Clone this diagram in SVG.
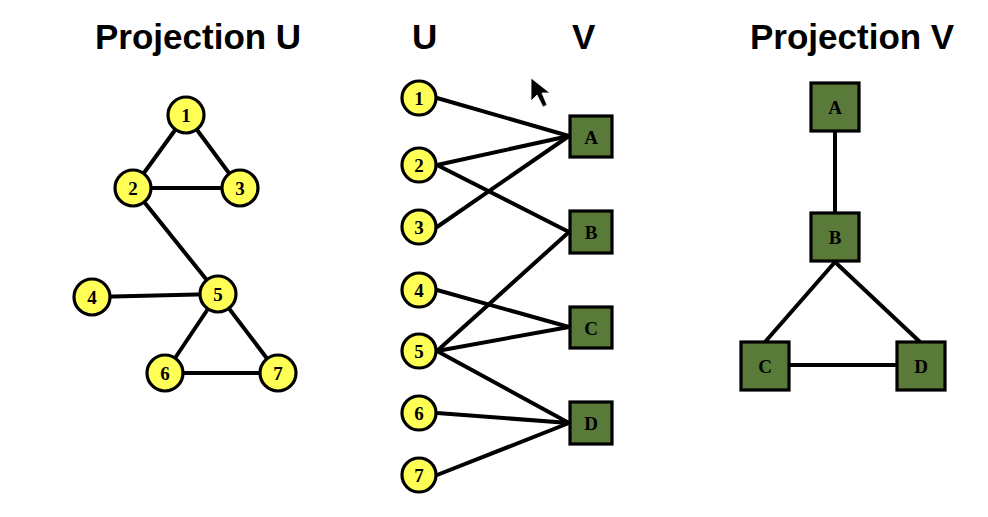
<svg xmlns="http://www.w3.org/2000/svg" width="988" height="517" viewBox="0 0 988 517">
<style>
.title{font-family:"Liberation Sans",Arial,sans-serif;font-weight:bold;font-size:35px;fill:#000}
.edge{stroke:#000;stroke-width:4;fill:none;stroke-linecap:round}
.u circle{fill:#FFFF55;stroke:#000;stroke-width:3.2}
.v rect{fill:#5A7A3A;stroke:#000;stroke-width:3.2}
.lbl{font-family:"Liberation Serif","Times New Roman",serif;font-weight:bold;font-size:19px;fill:#000;text-anchor:middle;dominant-baseline:central}
</style>
<rect width="988" height="517" fill="#fff"/>
<g id="titles">
<text class="title" x="95" y="49">Projection U</text>
<text class="title" x="412" y="49">U</text>
<text class="title" x="572" y="49">V</text>
<text class="title" x="750" y="49">Projection V</text>
</g>
<g id="connectors">
<line class="edge" x1="186" y1="115" x2="133" y2="188"/>
<line class="edge" x1="186" y1="115" x2="240" y2="188"/>
<line class="edge" x1="133" y1="188" x2="240" y2="188"/>
<line class="edge" x1="133" y1="188" x2="218" y2="294"/>
<line class="edge" x1="92" y1="297" x2="218" y2="294"/>
<line class="edge" x1="218" y1="294" x2="165" y2="373"/>
<line class="edge" x1="218" y1="294" x2="278" y2="373"/>
<line class="edge" x1="165" y1="373" x2="278" y2="373"/>
<line class="edge" x1="437" y1="98" x2="569" y2="136"/>
<line class="edge" x1="437" y1="165" x2="569" y2="136"/>
<line class="edge" x1="437" y1="227" x2="569" y2="136"/>
<line class="edge" x1="437" y1="165" x2="569" y2="232"/>
<line class="edge" x1="437" y1="351" x2="569" y2="232"/>
<line class="edge" x1="437" y1="290" x2="569" y2="327"/>
<line class="edge" x1="437" y1="351" x2="569" y2="327"/>
<line class="edge" x1="437" y1="351" x2="569" y2="423"/>
<line class="edge" x1="437" y1="413" x2="569" y2="423"/>
<line class="edge" x1="437" y1="475" x2="569" y2="423"/>
<line class="edge" x1="835" y1="107" x2="835" y2="237"/>
<line class="edge" x1="835" y1="262" x2="765" y2="342"/>
<line class="edge" x1="835" y1="262" x2="920" y2="342"/>
<line class="edge" x1="765" y1="365" x2="921" y2="365"/>
</g>
<g id="pu1" class="u"><circle cx="186" cy="115" r="18"/><text class="lbl" x="186" y="115">1</text></g>
<g id="pu2" class="u"><circle cx="133" cy="188" r="18"/><text class="lbl" x="133" y="188">2</text></g>
<g id="pu3" class="u"><circle cx="240" cy="188" r="18"/><text class="lbl" x="240" y="188">3</text></g>
<g id="pu4" class="u"><circle cx="92" cy="297" r="18"/><text class="lbl" x="92" y="297">4</text></g>
<g id="pu5" class="u"><circle cx="218" cy="294" r="18"/><text class="lbl" x="218" y="294">5</text></g>
<g id="pu6" class="u"><circle cx="165" cy="373" r="18"/><text class="lbl" x="165" y="373">6</text></g>
<g id="pu7" class="u"><circle cx="278" cy="373" r="18"/><text class="lbl" x="278" y="373">7</text></g>

<g id="u1" class="u"><circle cx="419" cy="98" r="17"/><text class="lbl" x="419" y="98">1</text></g>
<g id="u2" class="u"><circle cx="419" cy="165" r="17"/><text class="lbl" x="419" y="165">2</text></g>
<g id="u3" class="u"><circle cx="419" cy="227" r="17"/><text class="lbl" x="419" y="227">3</text></g>
<g id="u4" class="u"><circle cx="419" cy="290" r="17"/><text class="lbl" x="419" y="290">4</text></g>
<g id="u5" class="u"><circle cx="419" cy="351" r="17"/><text class="lbl" x="419" y="351">5</text></g>
<g id="u6" class="u"><circle cx="419" cy="413" r="17"/><text class="lbl" x="419" y="413">6</text></g>
<g id="u7" class="u"><circle cx="419" cy="475" r="17"/><text class="lbl" x="419" y="475">7</text></g>

<g id="vA" class="v"><rect x="570" y="116" width="42" height="41"/><text class="lbl" x="591" y="137">A</text></g>
<g id="vB" class="v"><rect x="570" y="211" width="42" height="42"/><text class="lbl" x="591" y="232">B</text></g>
<g id="vC" class="v"><rect x="570" y="307" width="42" height="41"/><text class="lbl" x="591" y="328">C</text></g>
<g id="vD" class="v"><rect x="570" y="402" width="42" height="42"/><text class="lbl" x="591" y="423">D</text></g>

<g id="pvA" class="v"><rect x="811" y="83" width="48" height="48"/><text class="lbl" x="835" y="107">A</text></g>
<g id="pvB" class="v"><rect x="811" y="213" width="48" height="48"/><text class="lbl" x="835" y="237">B</text></g>
<g id="pvC" class="v"><rect x="741" y="342" width="48" height="48"/><text class="lbl" x="765" y="366">C</text></g>
<g id="pvD" class="v"><rect x="897" y="342" width="48" height="48"/><text class="lbl" x="921" y="366">D</text></g>

<polygon id="cursor" points="531,78 531,101 537,95 543,107 547,105 542,93 550,93" fill="#000" stroke="#fff" stroke-width="0.8"/>
</svg>
